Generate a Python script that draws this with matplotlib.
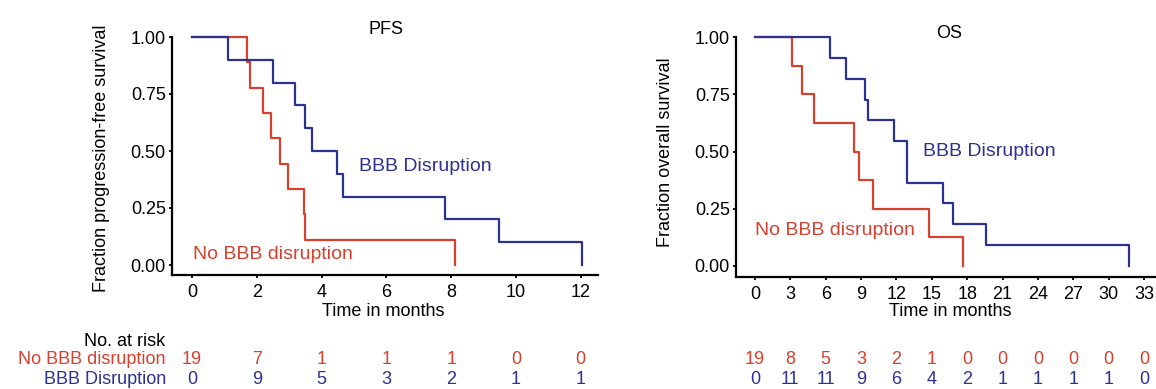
import matplotlib
matplotlib.use("Agg")
import matplotlib.pyplot as plt
from matplotlib.transforms import blended_transform_factory

plt.rcParams['font.family'] = ['Liberation Sans', 'DejaVu Sans']

RED = '#d6402f'
BLUE = '#2d3190'

# ---------------- data ----------------
pfs_no_t = [0, 1.70, 1.79, 2.18, 2.43, 2.72, 2.95, 3.46, 3.49, 8.12]
pfs_no_s = [1.0, 0.889, 0.778, 0.667, 0.556, 0.444, 0.333, 0.222, 0.111, 0.0]
pfs_bbb_t = [0, 1.10, 2.49, 3.19, 3.48, 3.71, 4.48, 4.65, 7.82, 9.47, 12.05]
pfs_bbb_s = [1.0, 0.9, 0.8, 0.7, 0.6, 0.5, 0.4, 0.3, 0.2, 0.1, 0.0]

os_no_t = [0, 3.17, 4.0, 5.0, 8.43, 8.85, 9.98, 14.76, 17.67]
os_no_s = [1.0, 0.875, 0.75, 0.625, 0.5, 0.375, 0.25, 0.125, 0.0]
os_bbb_t = [0, 6.36, 7.72, 9.3, 9.61, 11.77, 12.87, 15.95, 16.83, 19.6, 31.75]
os_bbb_s = [1.0, 0.909, 0.818, 0.727, 0.636, 0.545, 0.364, 0.273, 0.182, 0.091, 0.0]

pfs_ticks = [0, 2, 4, 6, 8, 10, 12]
pfs_risk_no = [19, 7, 1, 1, 1, 0, 0]
pfs_risk_bbb = [0, 9, 5, 3, 2, 1, 1]

os_ticks = [0, 3, 6, 9, 12, 15, 18, 21, 24, 27, 30, 33]
os_risk_no = [19, 8, 5, 3, 2, 1, 0, 0, 0, 0, 0, 0]
os_risk_bbb = [0, 11, 11, 9, 6, 4, 2, 1, 1, 1, 1, 0]

y_ticks = [0.0, 0.25, 0.5, 0.75, 1.0]

# ---------------- layout ----------------
W, H = 1156, 389
fig = plt.figure(figsize=(W / 100, H / 100), dpi=100)


def px_axes(l, r, t, b):
    return fig.add_axes([l / W, 1 - b / H, (r - l) / W, (b - t) / H])


def setup(ax, ticks, x0px, pxper, y0px, pxy, l, r, t, b):
    ax.set_xlim((l - x0px) / pxper, (r - x0px) / pxper)
    ax.set_ylim((y0px - b) / pxy, (y0px - t) / pxy)
    for s in ['top', 'right']:
        ax.spines[s].set_visible(False)
    ax.spines['left'].set_bounds(ax.get_ylim()[0], 1.0)
    for s in ['left', 'bottom']:
        ax.spines[s].set_linewidth(1.6)
    ax.set_xticks(ticks)
    ax.set_yticks(y_ticks)
    ax.set_yticklabels([f'{v:.2f}' for v in y_ticks])
    ax.tick_params(axis='both', labelsize=13, width=1.3, length=2.5,
                   direction='out', color='black')
    ax.tick_params(axis='y', pad=2)
    ax.tick_params(axis='x', pad=4)


FS = 13

# PFS panel
l, r, t, b = 172, 598, 20, 275
ax1 = px_axes(l, r, t, b)
ax1.step(pfs_no_t, pfs_no_s, where='post', color=RED, lw=1.6)
ax1.step(pfs_bbb_t, pfs_bbb_s, where='post', color=BLUE, lw=1.6)
setup(ax1, pfs_ticks, 192, 32.4, 265, 228, l, r, t, b)
ax1.set_title('PFS', fontsize=FS, y=1.0, pad=0)
ax1.title.set_position((0.5, 1.0))
ax1.text(6, (265 - 30) / 228, 'PFS', ha='center', va='center', fontsize=FS)
ax1.title.set_visible(False)
ax1.text(5.15, 0.43, 'BBB Disruption', color=BLUE, fontsize=14, va='center', ha='left')
ax1.text(0.03, 0.048, 'No BBB disruption', color=RED, fontsize=14, va='center', ha='left')

# OS panel
l2, r2, t2, b2 = 736, 1156, 20, 277
ax2 = px_axes(l2, r2, t2, b2)
ax2.step(os_no_t, os_no_s, where='post', color=RED, lw=1.6)
ax2.step(os_bbb_t, os_bbb_s, where='post', color=BLUE, lw=1.6)
setup(ax2, os_ticks, 755, 11.79, 266, 229, l2, r2, t2, b2)
ax2.text(16.5, (266 - 33) / 229, 'OS', ha='center', va='center', fontsize=FS)
ax2.text(14.25, 0.498, 'BBB Disruption', color=BLUE, fontsize=14, va='center', ha='left')
ax2.text(0.0, 0.153, 'No BBB disruption', color=RED, fontsize=14, va='center', ha='left')

# axis labels
fig.text(383 / W, 1 - 312 / H, 'Time in months', ha='center', va='center', fontsize=FS)
fig.text(950 / W, 1 - 312 / H, 'Time in months', ha='center', va='center', fontsize=FS)
fig.text(101 / W, 1 - 158 / H, 'Fraction progression-free survival', rotation=90,
         ha='center', va='center', fontsize=FS)
fig.text(665 / W, 1 - 152 / H, 'Fraction overall survival', rotation=90,
         ha='center', va='center', fontsize=FS)

# risk table
fig.text(165 / W, 1 - 341 / H, 'No. at risk', ha='right', va='center', fontsize=FS)
fig.text(165 / W, 1 - 359 / H, 'No BBB disruption', ha='right', va='center',
         fontsize=FS, color=RED)
fig.text(166 / W, 1 - 380 / H, 'BBB Disruption', ha='right', va='center',
         fontsize=FS, color=BLUE)

tr1 = blended_transform_factory(ax1.transData, fig.transFigure)
for xv, a, c in zip(pfs_ticks, pfs_risk_no, pfs_risk_bbb):
    fig.text(xv, 1 - 359 / H, str(a), transform=tr1, ha='center', va='center',
             fontsize=FS, color=RED)
    fig.text(xv, 1 - 380 / H, str(c), transform=tr1, ha='center', va='center',
             fontsize=FS, color=BLUE)

tr2 = blended_transform_factory(ax2.transData, fig.transFigure)
for xv, a, c in zip(os_ticks, os_risk_no, os_risk_bbb):
    fig.text(xv, 1 - 359 / H, str(a), transform=tr2, ha='center', va='center',
             fontsize=FS, color=RED)
    fig.text(xv, 1 - 380 / H, str(c), transform=tr2, ha='center', va='center',
             fontsize=FS, color=BLUE)

fig.savefig('out.png', dpi=100)
